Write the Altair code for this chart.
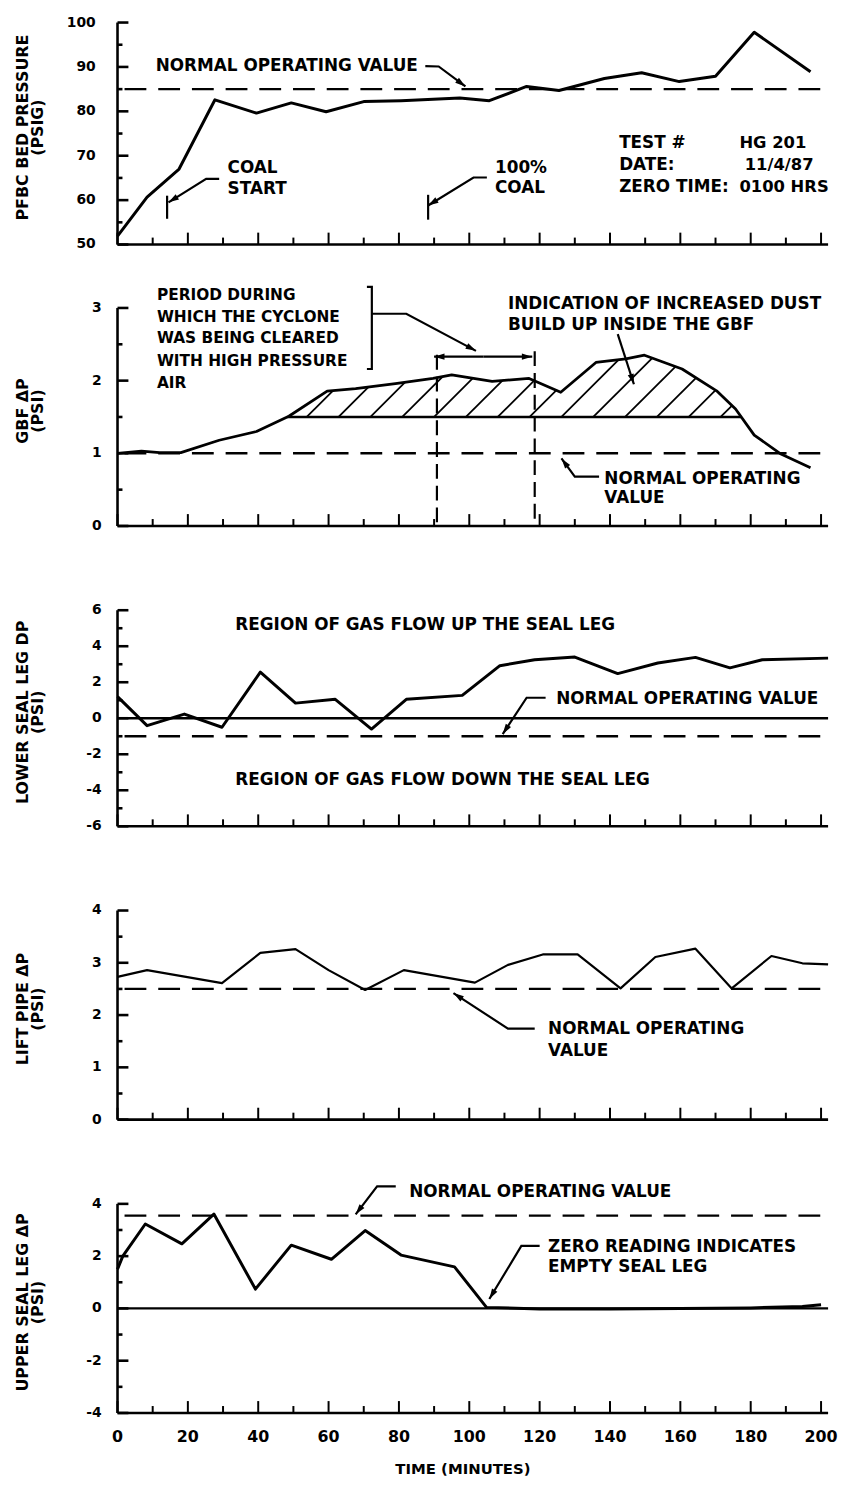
import math
import altair as alt
import numpy as np
import pandas as pd

FONT = "DejaVu Sans"
W = 717
XMAX = 202
XS = W / XMAX  # px per minute

X_MAJOR = list(range(0, 201, 20))
X_MINOR = list(range(10, 200, 20))
X_LABELS = list(range(0, 201, 20))
X_TITLE = "TIME (MINUTES)"

# ---------------- Panel 1: PFBC bed pressure ----------------
P1_T = [0, 8.4, 17.5, 27.7, 39.5, 49.4, 59.3, 70, 80.6, 97.3, 105.7, 116.3, 125.5, 138.4, 149, 159.7, 170, 181, 197]
P1_V = [51.9, 60.7, 67, 82.6, 79.6, 81.9, 79.9, 82.2, 82.4, 83, 82.4, 85.6, 84.7, 87.4, 88.7, 86.7, 87.9, 97.8, 88.9]
P1_NORMAL = 85
P1_YMAJOR = [50, 60, 70, 80, 90, 100]
P1_YMINOR = [55, 65, 75, 85, 95]
P1_TITLE = "PFBC BED PRESSURE\n(PSIG)"
P1_TEXT = ["NORMAL OPERATING VALUE", "COAL", "START", "100%", "COAL",
           "TEST #", "DATE:", "ZERO TIME:", "HG 201", "11/4/87", "0100 HRS"]
P1_TEXT_T = [10.85, 31.3, 31.3, 107.3, 107.3, 142.6, 142.6, 142.6, 176.8, 178.3, 176.8]
P1_TEXT_V = [90.2, 67.3, 62.5, 67.3, 62.8, 72.9, 67.8, 62.9, 72.9, 67.8, 62.9]
P1_TEXT_SIZE = [17, 17, 17, 17, 17, 17, 17, 17, 16.5, 16.5, 16.5]
P1_LEADERS = [
    [(87.5, 90.2), (91.3, 90.1), (98.9, 85.6)],
    [(28.9, 64.8), (25.2, 64.8), (14.5, 59.5)],
    [(105.0, 65.1), (101.2, 65.1), (88.3, 58.8)],
]
P1_SEGS = [
    [(14.1, 61.0), (14.1, 55.8)],
    [(88.3, 61.2), (88.3, 55.6)],
]

# ---------------- Panel 2: GBF dP ----------------
P2_T = [0, 6.8, 12, 18, 28.9, 39.5, 48.7, 59.6, 67.7, 79, 89.7, 95, 106.5, 117, 126, 136, 144.5, 149.8,
        160.5, 170.3, 175.7, 181, 188.6, 197]
P2_V = [1.0, 1.03, 1.01, 1.01, 1.18, 1.3, 1.51, 1.855, 1.89, 1.96, 2.03, 2.08, 1.99, 2.03, 1.84, 2.25, 2.3, 2.35,
        2.16, 1.86, 1.61, 1.25, 0.99, 0.8]
P2_NORMAL = 1.0
P2_BASE = 1.5
P2_YMAJOR = [0, 1, 2, 3]
P2_YMINOR = [0.5, 1.5, 2.5]
P2_TITLE = "GBF ΔP\n(PSI)"
P2_TEXT = ["PERIOD DURING", "WHICH THE CYCLONE", "WAS BEING CLEARED", "WITH HIGH PRESSURE", "AIR",
           "INDICATION OF INCREASED DUST", "BUILD UP INSIDE THE GBF", "NORMAL OPERATING", "VALUE"]
P2_TEXT_T = [11.2, 11.2, 11.2, 11.2, 11.2, 111, 111, 138.4, 138.4]
P2_TEXT_V = [3.18, 2.88, 2.58, 2.27, 1.96, 3.06, 2.76, 0.64, 0.38]
P2_TEXT_SIZE = [15.5, 15.5, 15.5, 15.5, 15.5, 17, 17, 17, 17]
P2_LEADERS = [
    [(72.3, 2.92), (82.1, 2.92), (101.9, 2.41)],
    [(142.2, 2.64), (146.8, 1.95)],
    [(136.9, 0.68), (130.0, 0.68), (126.2, 0.93)],
    [(104.0, 2.33), (90.0, 2.33)],
    [(104.0, 2.33), (117.9, 2.33)],
]
P2_SEGS = [
    [(70.9, 3.29), (72.3, 3.29), (72.3, 2.16), (70.9, 2.16)],
]
P2_VDASH_T = [90.8, 118.6]
P2_VDASH_LO = [0.05, 0.1]
P2_VDASH_HI = [2.39, 2.5]
P2_HATCH_START = 53.8
P2_HATCH_STEP = 9.05

# ---------------- Panel 3: lower seal leg DP ----------------
P3_T = [0, 8.4, 19, 29.7, 40.6, 50.6, 61.9, 72.2, 82.1, 98, 108.7, 118.6, 130, 142.2, 153.6, 164.3, 174.1, 183.3, 202]
P3_V = [1.2, -0.41, 0.23, -0.5, 2.56, 0.84, 1.05, -0.6, 1.05, 1.27, 2.92, 3.25, 3.4, 2.48, 3.07, 3.38, 2.8, 3.25, 3.34]
P3_NORMAL = -1.0
P3_YMAJOR = [-6, -4, -2, 0, 2, 4, 6]
P3_YMINOR = [-5, -3, -1, 1, 3, 5]
P3_TITLE = "LOWER SEAL LEG DP\n(PSI)"
P3_TEXT = ["REGION OF GAS FLOW UP THE SEAL LEG", "NORMAL OPERATING VALUE", "REGION OF GAS FLOW DOWN THE SEAL LEG"]
P3_TEXT_T = [33.5, 124.7, 33.5]
P3_TEXT_V = [5.17, 1.05, -3.45]
P3_LEADERS = [[(121.7, 1.14), (116.3, 1.14), (109.5, -0.88)]]

# ---------------- Panel 4: lift pipe dP ----------------
P4_T = [0, 8.4, 29.7, 40.6, 50.6, 60, 70.4, 81.4, 101.6, 111, 120.9, 130.8, 143, 152.9, 164.3, 174.6, 185.9, 194.7, 202]
P4_V = [2.73, 2.86, 2.61, 3.19, 3.26, 2.86, 2.48, 2.86, 2.62, 2.96, 3.16, 3.16, 2.51, 3.11, 3.27, 2.51, 3.13, 2.99, 2.97]
P4_NORMAL = 2.5
P4_YMAJOR = [0, 1, 2, 3, 4]
P4_YMINOR = [0.5, 1.5, 2.5, 3.5]
P4_TITLE = "LIFT PIPE ΔP\n(PSI)"
P4_TEXT = ["NORMAL OPERATING", "VALUE"]
P4_TEXT_T = [122.4, 122.4]
P4_TEXT_V = [1.73, 1.31]
P4_LEADERS = [[(118.6, 1.74), (111.0, 1.74), (95.5, 2.42)]]

# ---------------- Panel 5: upper seal leg dP ----------------
P5_T = [0, 1.5, 7.9, 18.3, 27.4, 39.2, 49.4, 60.8, 70.4, 80.6, 95.8, 104.9, 120, 140, 160, 180, 194.7, 200]
P5_V = [1.5, 2.0, 3.23, 2.47, 3.61, 0.74, 2.42, 1.88, 2.98, 2.04, 1.59, 0.04, -0.02, -0.02, 0.0, 0.02, 0.07, 0.14]
P5_NORMAL = 3.55
P5_YMAJOR = [-4, -2, 0, 2, 4]
P5_YMINOR = [-3, -1, 1, 3]
P5_TITLE = "UPPER SEAL LEG ΔP\n(PSI)"
P5_TEXT = ["NORMAL OPERATING VALUE", "ZERO READING INDICATES", "EMPTY SEAL LEG"]
P5_TEXT_T = [82.9, 122.4, 122.4]
P5_TEXT_V = [4.45, 2.36, 1.57]
P5_LEADERS = [
    [(79.1, 4.67), (73.8, 4.67), (67.7, 3.6)],
    [(120.0, 2.39), (114.8, 2.39), (105.7, 0.36)],
]

ARROW = "M0,0L0.6,2L-0.6,2Z"


def make_panel(t, v, ydom, height, ymajor, yminor, title, label_pad, normal,
               texts, leaders, segs=None, zero_line=False, line_w=2.8,
               bottom=False, text_sizes=None, extra=None):
    ys = height / (ydom[1] - ydom[0])
    ysc = alt.Scale(domain=ydom, nice=False, zero=False)
    xsc = alt.Scale(domain=[0, XMAX], nice=False, zero=False)

    def X(f):
        return alt.X(f"{f}:Q", scale=xsc, axis=None)

    def Y(f):
        return alt.Y(f"{f}:Q", scale=ysc, axis=None)

    layers = []
    sdf = pd.DataFrame({"t": t, "v": v})
    layers.append(alt.Chart(sdf).mark_line(color="black", strokeWidth=line_w, strokeJoin="round").encode(
        x=X("t"), y=Y("v")))

    # axis lines
    layers.append(alt.Chart(pd.DataFrame({"v": [ydom[0]], "v2": [ydom[1]]})).mark_rule(
        color="black", strokeWidth=2.6).encode(x=alt.value(0), y=Y("v"), y2=alt.Y2("v2")))
    layers.append(alt.Chart(pd.DataFrame({"t": [0], "t2": [XMAX]})).mark_rule(
        color="black", strokeWidth=2.6).encode(x=X("t"), x2=alt.X2("t2"), y=alt.value(height)))

    # inward ticks
    for vals, ln in ((X_MAJOR, 12), (X_MINOR, 7)):
        layers.append(alt.Chart(pd.DataFrame({"t": vals})).mark_rule(color="black", strokeWidth=2).encode(
            x=X("t"), y=alt.value(height), y2=alt.value(height - ln)))
    for vals, ln in ((ymajor, 11), (yminor, 5)):
        layers.append(alt.Chart(pd.DataFrame({"v": vals})).mark_rule(color="black", strokeWidth=2.6).encode(
            y=Y("v"), x=alt.value(0), x2=alt.value(ln)))

    # y tick labels
    layers.append(alt.Chart(pd.DataFrame({"v": ymajor, "lab": [str(k) for k in ymajor]})).mark_text(
        align="right", baseline="middle", font=FONT, fontSize=14, fontWeight="bold", color="black").encode(
        y=Y("v"), x=alt.value(-label_pad), text="lab:N"))
    # y title
    layers.append(alt.Chart(pd.DataFrame({"lab": [title]})).mark_text(
        align="center", baseline="top", angle=270, lineBreak="\n", lineHeight=15, font=FONT,
        fontSize=16, fontWeight="bold", color="black").encode(
        x=alt.value(-103), y=alt.value(height / 2 - 6), text="lab:N"))
    if bottom:
        layers.append(alt.Chart(pd.DataFrame({"t": X_LABELS, "lab": [str(k) for k in X_LABELS]})).mark_text(
            align="center", baseline="top", font=FONT, fontSize=16, fontWeight="bold", color="black").encode(
            x=X("t"), y=alt.value(height + 16), text="lab:N"))
        layers.append(alt.Chart(pd.DataFrame({"lab": [X_TITLE]})).mark_text(
            align="center", baseline="middle", font=FONT, fontSize=15, fontWeight="bold", color="black").encode(
            x=alt.value(348.5), y=alt.value(height + 57), text="lab:N"))

    # normal operating dashed line
    layers.append(alt.Chart(pd.DataFrame({"t": [2], "t2": [XMAX], "v": [normal]})).mark_rule(
        color="black", strokeWidth=2.4, strokeDash=[22, 12]).encode(x=X("t"), x2=alt.X2("t2"), y=Y("v")))
    if zero_line:
        layers.append(alt.Chart(pd.DataFrame({"t": [0], "t2": [XMAX], "v": [0]})).mark_rule(
            color="black", strokeWidth=2.4).encode(x=X("t"), x2=alt.X2("t2"), y=Y("v")))

    # annotation text
    tt, tv, tx = texts
    tdf = pd.DataFrame({"t": tt, "v": tv, "text": tx,
                        "size": text_sizes if text_sizes else [17] * len(tx)})
    layers.append(alt.Chart(tdf).mark_text(align="left", baseline="middle", font=FONT,
                                           fontWeight="bold", color="black").encode(
        x=X("t"), y=Y("v"), text="text:N", size=alt.Size("size:Q", scale=None)))

    # leaders with arrowheads
    rows, heads = [], []
    for i, pts in enumerate(leaders):
        for j, (a, b) in enumerate(pts):
            rows.append({"id": i, "ord": j, "t": a, "v": b})
        (t0, v0), (t1, v1) = pts[-2], pts[-1]
        ang = math.degrees(math.atan2((t1 - t0) * XS, (v1 - v0) * ys)) % 360
        heads.append({"t": t1, "v": v1, "ang": ang})
    for i, pts in enumerate(segs or []):
        for j, (a, b) in enumerate(pts):
            rows.append({"id": 100 + i, "ord": j, "t": a, "v": b})
    layers.append(alt.Chart(pd.DataFrame(rows)).mark_line(color="black", strokeWidth=2.2).encode(
        x=X("t"), y=Y("v"), detail="id:N", order=alt.Order("ord:Q")))
    layers.append(alt.Chart(pd.DataFrame(heads)).mark_point(
        shape=ARROW, filled=True, size=110, color="black", opacity=1, strokeWidth=0).encode(
        x=X("t"), y=Y("v"), angle=alt.Angle("ang:Q", scale=None)))

    if extra:
        layers.extend(extra(X, Y, ys))

    return alt.layer(*layers).properties(width=W, height=height)


def p2_extra(X, Y, ys):
    out = []
    grid = np.linspace(0, max(P2_T), 20001)
    curve = np.interp(grid, P2_T, P2_V)
    idx = np.where(curve > P2_BASE)[0]
    t_lo, t_hi = grid[idx[0]], grid[idx[-1]]
    # baseline of the hatched region
    out.append(alt.Chart(pd.DataFrame({"t": [t_lo], "t2": [t_hi], "v": [P2_BASE]})).mark_rule(
        color="black", strokeWidth=2.6).encode(x=X("t"), x2=alt.X2("t2"), y=Y("v")))
    # 45-degree hatch lines up to the curve
    slope = XS / ys
    hrows = []
    tb = P2_HATCH_START
    while tb < t_hi:
        if np.interp(tb, P2_T, P2_V) > P2_BASE + 0.03:
            g = np.linspace(tb, tb + 40, 8001)
            d = P2_BASE + slope * (g - tb) - np.interp(g, P2_T, P2_V)
            k = np.argmax(d >= 0)
            hrows.append({"t": tb, "v": P2_BASE, "t2": g[k], "v2": P2_BASE + slope * (g[k] - tb)})
        tb += P2_HATCH_STEP
    out.append(alt.Chart(pd.DataFrame(hrows)).mark_rule(color="black", strokeWidth=1.8).encode(
        x=X("t"), x2=alt.X2("t2"), y=Y("v"), y2=alt.Y2("v2")))
    # vertical dashed lines of the cleaning period
    out.append(alt.Chart(pd.DataFrame({"t": P2_VDASH_T, "v": P2_VDASH_LO, "v2": P2_VDASH_HI})).mark_rule(
        color="black", strokeWidth=2.2, strokeDash=[15, 7]).encode(x=X("t"), y=Y("v"), y2=alt.Y2("v2")))
    return out


p1 = make_panel(P1_T, P1_V, [50, 100], 224, P1_YMAJOR, P1_YMINOR, P1_TITLE, 22,
                P1_NORMAL, (P1_TEXT_T, P1_TEXT_V, P1_TEXT), P1_LEADERS, segs=P1_SEGS, line_w=3,
                text_sizes=P1_TEXT_SIZE)
p2 = make_panel(P2_T, P2_V, [0, 3], 220, P2_YMAJOR, P2_YMINOR, P2_TITLE, 16,
                P2_NORMAL, (P2_TEXT_T, P2_TEXT_V, P2_TEXT), P2_LEADERS, segs=P2_SEGS, line_w=2.8,
                text_sizes=P2_TEXT_SIZE, extra=p2_extra)
p3 = make_panel(P3_T, P3_V, [-6, 6], 218, P3_YMAJOR, P3_YMINOR, P3_TITLE, 16,
                P3_NORMAL, (P3_TEXT_T, P3_TEXT_V, P3_TEXT), P3_LEADERS, zero_line=True, line_w=3)
p4 = make_panel(P4_T, P4_V, [0, 4], 211, P4_YMAJOR, P4_YMINOR, P4_TITLE, 16,
                P4_NORMAL, (P4_TEXT_T, P4_TEXT_V, P4_TEXT), P4_LEADERS, line_w=2.2)
p5 = make_panel(P5_T, P5_V, [-4, 4], 211, P5_YMAJOR, P5_YMINOR, P5_TITLE, 16,
                P5_NORMAL, (P5_TEXT_T, P5_TEXT_V, P5_TEXT), P5_LEADERS, zero_line=True, line_w=3,
                bottom=True)

inner = alt.vconcat(p2, p3, p4, p5, spacing=85, bounds="flush")
chart = alt.vconcat(p1, inner, spacing=64, bounds="flush").properties(
    padding={"left": 7.5, "top": 1, "right": 0, "bottom": 0},
    background="white",
).configure_view(stroke=None)

chart.save("out.html", embed_options={"renderer": "svg", "actions": False})
